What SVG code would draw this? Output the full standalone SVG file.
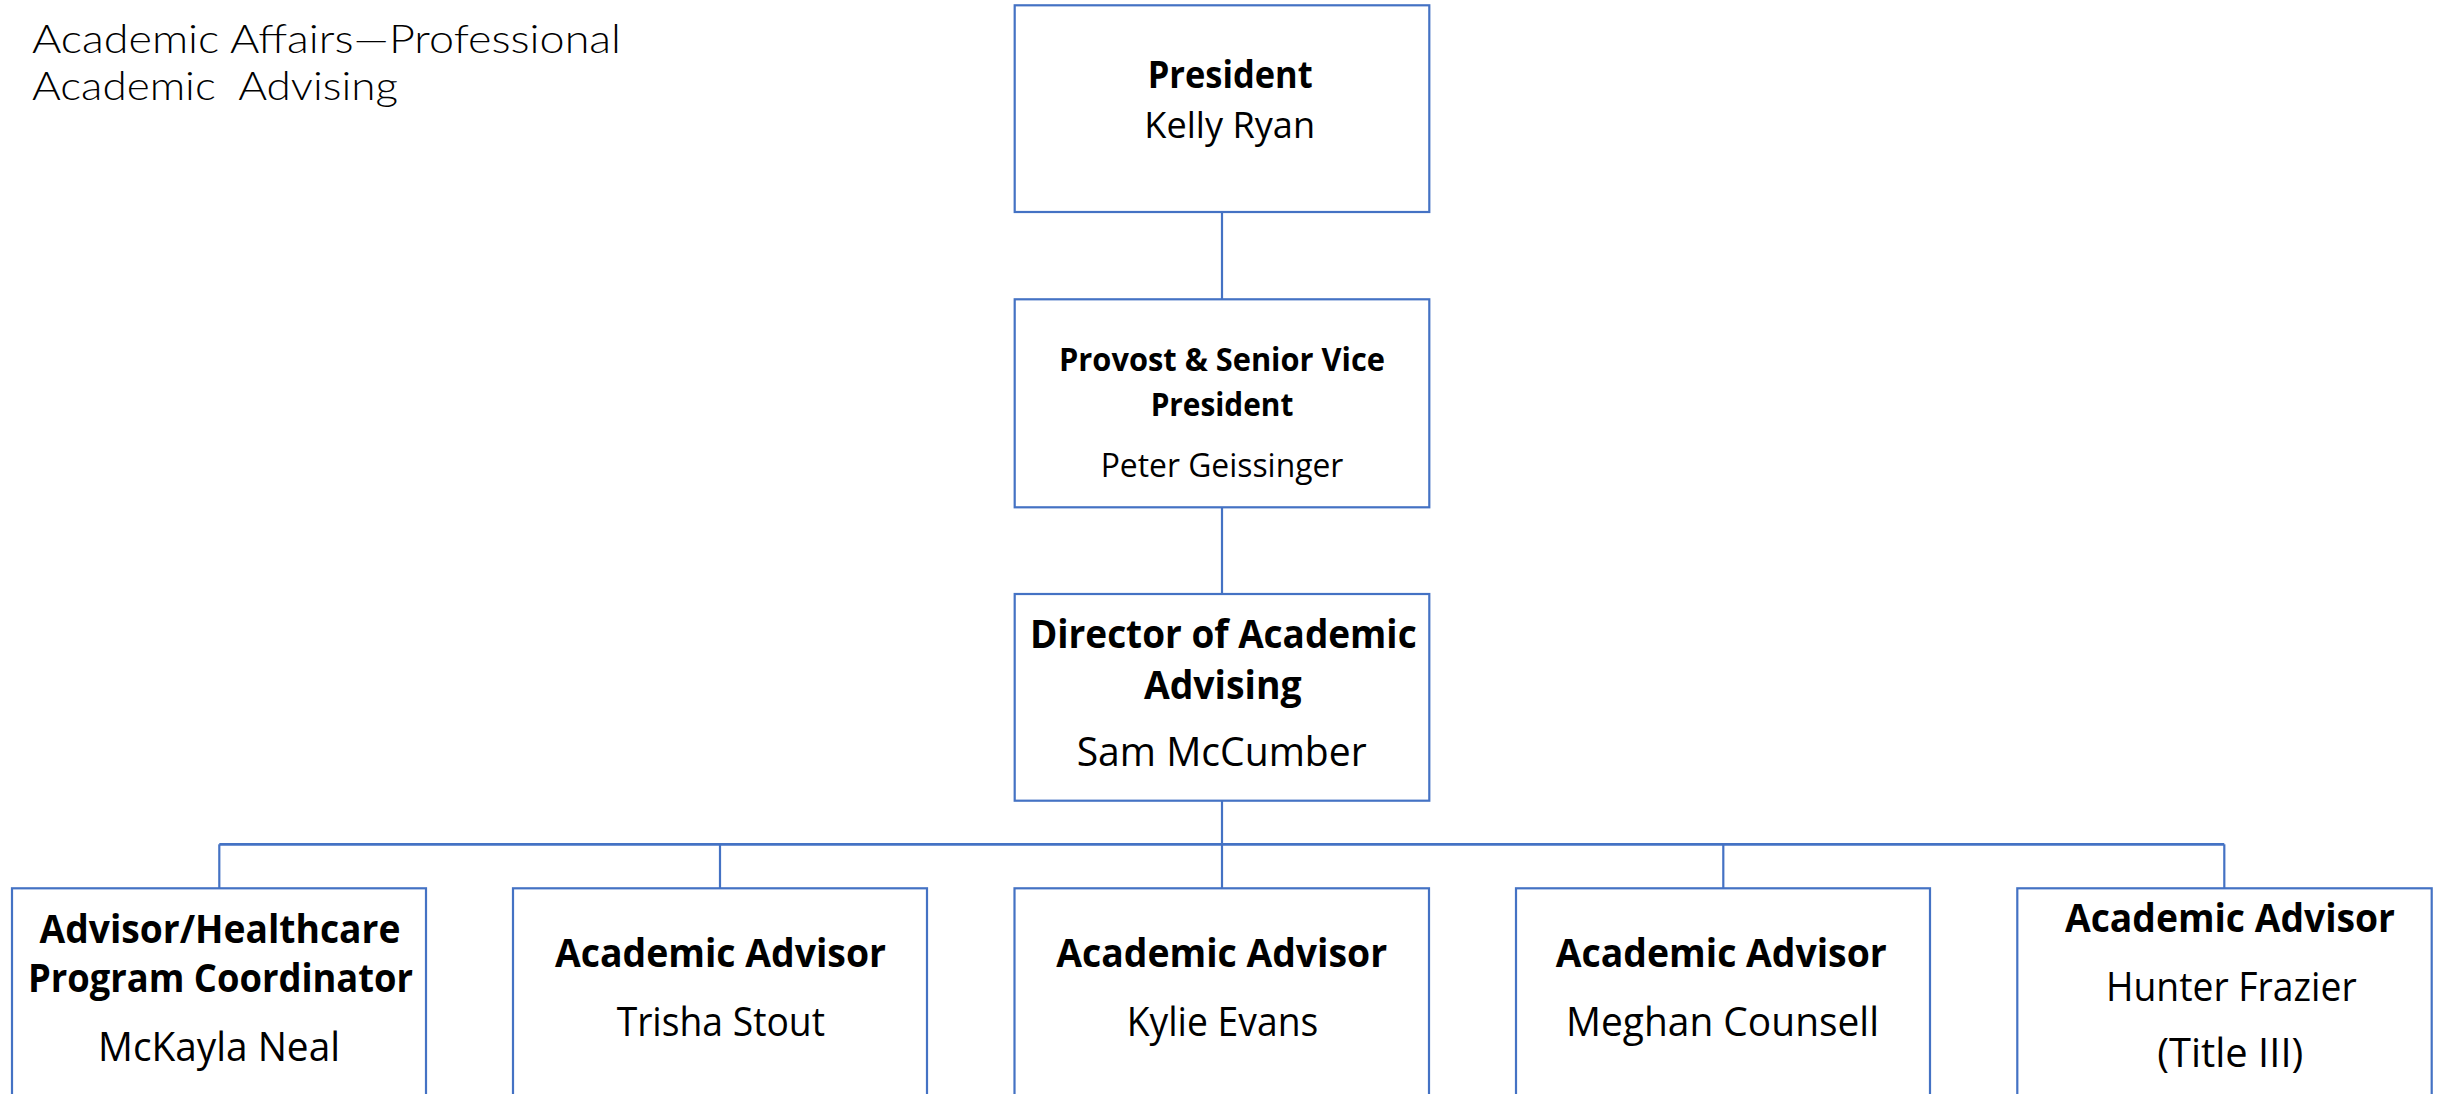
<svg xmlns="http://www.w3.org/2000/svg" width="2445" height="1094" viewBox="0 0 2445 1094">
<style>
.box{fill:#ffffff;stroke:#4472C4;stroke-width:2.2}
.ln{fill:none;stroke:#4472C4;stroke-width:2.2}
.bar{fill:none;stroke:#4472C4;stroke-width:2.8}
text{font-family:"Open Sans","Lato","Noto Sans",sans-serif;fill:#000000;text-anchor:middle}
.b{font-weight:700}
.r{font-weight:400}
.t{font-family:"Lato","Open Sans",sans-serif;font-weight:300;text-anchor:start;font-size:39px}
.s44{font-size:39.6px}
.s41{font-size:37px}
.s36{font-size:32.5px}
</style>
<rect width="2445" height="1094" fill="#ffffff"/>
<g id="title">
<text class="t" xml:space="preserve"><tspan x="32" y="52.7" textLength="589" lengthAdjust="spacingAndGlyphs">Academic Affairs—Professional</tspan><tspan x="32" y="100" textLength="366" lengthAdjust="spacingAndGlyphs">Academic  Advising</tspan></text>
</g>
<g id="connectors">
<line class="ln" x1="1222" y1="212" x2="1222" y2="299.5"/>
<line class="ln" x1="1222" y1="507.5" x2="1222" y2="594"/>
<line class="ln" x1="1222" y1="800.7" x2="1222" y2="888.3"/>
<line class="bar" x1="219.3" y1="844.3" x2="2224.3" y2="844.3"/>
<line class="ln" x1="219.3" y1="844.3" x2="219.3" y2="888.3"/>
<line class="ln" x1="720" y1="844.3" x2="720" y2="888.3"/>
<line class="ln" x1="1723.3" y1="844.3" x2="1723.3" y2="888.3"/>
<line class="ln" x1="2224.3" y1="844.3" x2="2224.3" y2="888.3"/>
</g>
<g id="president">
<rect class="box" x="1014.7" y="5.3" width="414.6" height="206.7"/>
<text class="b s41" x="1230.2" y="88.3" textLength="165" lengthAdjust="spacingAndGlyphs">President</text>
<text class="r s41" x="1229.7" y="138.3" textLength="170.7" lengthAdjust="spacingAndGlyphs">Kelly Ryan</text>
</g>
<g id="provost">
<rect class="box" x="1014.7" y="299.3" width="414.6" height="208"/>
<text class="b s36" x="1222" y="370.7" textLength="326" lengthAdjust="spacingAndGlyphs">Provost &amp; Senior Vice</text>
<text class="b s36" x="1222" y="416" textLength="142.7" lengthAdjust="spacingAndGlyphs">President</text>
<text class="r s36" x="1222" y="477.3" textLength="242.7" lengthAdjust="spacingAndGlyphs">Peter Geissinger</text>
</g>
<g id="director">
<rect class="box" x="1014.7" y="594" width="414.6" height="206.7"/>
<text class="b s44" x="1223.3" y="648.3" textLength="386.7" lengthAdjust="spacingAndGlyphs">Director of Academic</text>
<text class="b s44" x="1222.8" y="699" textLength="157.7" lengthAdjust="spacingAndGlyphs">Advising</text>
<text class="r s44" x="1221.7" y="766" textLength="290" lengthAdjust="spacingAndGlyphs">Sam McCumber</text>
</g>
<g id="neal">
<rect class="box" x="12" y="888.3" width="414" height="230"/>
<text class="b s44" x="220" y="943.3" textLength="361" lengthAdjust="spacingAndGlyphs">Advisor/Healthcare</text>
<text class="b s44" x="220.5" y="992.3" textLength="385" lengthAdjust="spacingAndGlyphs">Program Coordinator</text>
<text class="r s44" x="219" y="1061" textLength="242" lengthAdjust="spacingAndGlyphs">McKayla Neal</text>
</g>
<g id="stout">
<rect class="box" x="513" y="888.3" width="414" height="230"/>
<text class="b s44" x="720.5" y="967.3" textLength="331" lengthAdjust="spacingAndGlyphs">Academic Advisor</text>
<text class="r s44" x="720.8" y="1036" textLength="208.3" lengthAdjust="spacingAndGlyphs">Trisha Stout</text>
</g>
<g id="evans">
<rect class="box" x="1014.5" y="888.3" width="414.5" height="230"/>
<text class="b s44" x="1221.7" y="967.3" textLength="331" lengthAdjust="spacingAndGlyphs">Academic Advisor</text>
<text class="r s44" x="1222.5" y="1036" textLength="191.6" lengthAdjust="spacingAndGlyphs">Kylie Evans</text>
</g>
<g id="counsell">
<rect class="box" x="1516" y="888.3" width="414" height="230"/>
<text class="b s44" x="1721.3" y="967.3" textLength="331" lengthAdjust="spacingAndGlyphs">Academic Advisor</text>
<text class="r s44" x="1722.5" y="1036" textLength="313" lengthAdjust="spacingAndGlyphs">Meghan Counsell</text>
</g>
<g id="frazier">
<rect class="box" x="2017.3" y="888.3" width="414.4" height="230"/>
<text class="b s44" x="2230" y="931.7" textLength="330" lengthAdjust="spacingAndGlyphs">Academic Advisor</text>
<text class="r s44" x="2231.3" y="1000.7" textLength="250.7" lengthAdjust="spacingAndGlyphs">Hunter Frazier</text>
<text class="r s44" x="2230.3" y="1067" textLength="146" lengthAdjust="spacingAndGlyphs">(Title III)</text>
</g>
</svg>
